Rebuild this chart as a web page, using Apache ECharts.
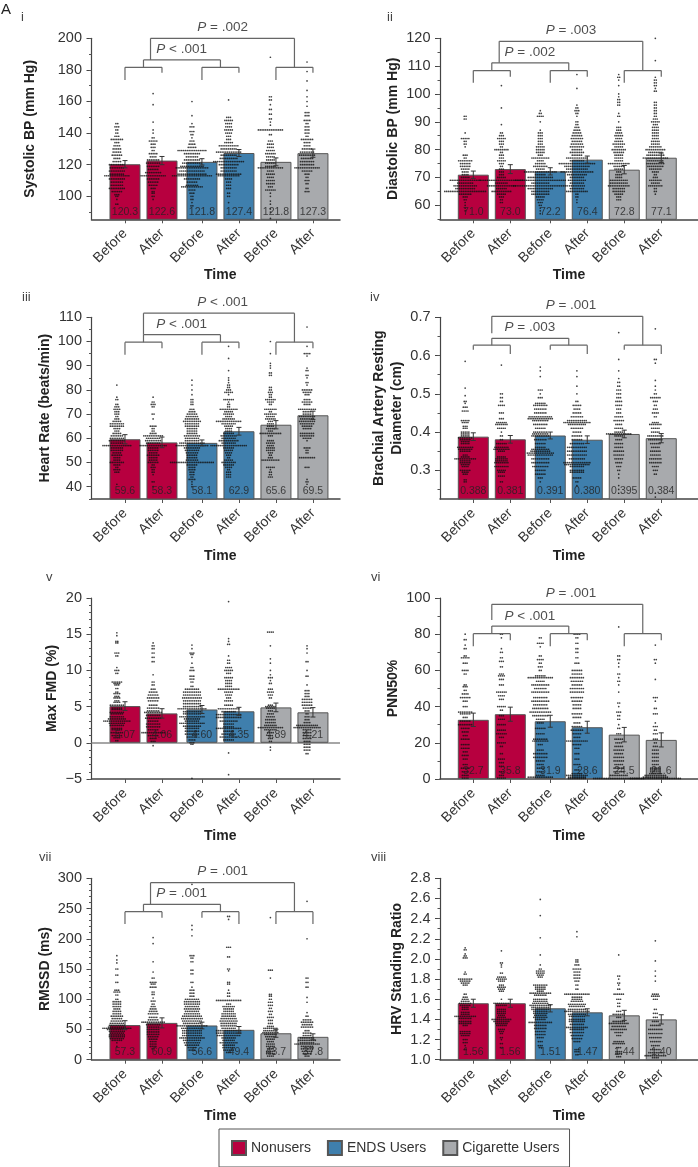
<!DOCTYPE html>
<html>
<head>
<meta charset="utf-8">
<script src="https://cdn.jsdelivr.net/npm/echarts@6/dist/echarts.min.js"></script>
<style>body{margin:0;background:#fff}#chart{width:698px;height:1167px}</style>
</head>
<body>
<div id="chart"></div>
<script>
var timeLabels = ['Before', 'After', 'Before', 'After', 'Before', 'After'];
var groupNames = ['Nonusers', 'ENDS Users', 'Cigarette Users'];
var groupColors = ['#B7003F', '#3F7FAD', '#A8AAAD'];

// bar means and standard errors, one array per panel
var systolicMeans = [120.3, 122.6, 121.8, 127.4, 121.8, 127.3];
var systolicErr = [2.3, 2.6, 2.0, 2.2, 2.5, 2.6];
var diastolicMeans = [71.0, 73.0, 72.2, 76.4, 72.8, 77.1];
var diastolicErr = [1.3, 1.6, 1.3, 1.3, 1.5, 1.7];
var heartMeans = [59.6, 58.3, 58.1, 62.9, 65.6, 69.5];
var heartErr = [1.9, 2.2, 1.2, 1.6, 1.7, 1.7];
var diameterMeans = [0.388, 0.381, 0.391, 0.380, 0.395, 0.384];
var diameterErr = [0.010, 0.010, 0.009, 0.010, 0.010, 0.012];
var fmdMeans = [5.07, 4.06, 4.60, 4.35, 4.89, 4.21];
var fmdErr = [0.6, 0.65, 0.55, 0.55, 0.6, 0.65];
var pnnMeans = [32.7, 35.8, 31.9, 28.6, 24.5, 21.6];
var pnnErr = [3.7, 3.9, 3.3, 3.3, 4.0, 3.9];
var rmssdMeans = [57.3, 60.9, 56.6, 49.4, 43.7, 37.8];
var rmssdErr = [7.2, 8.3, 5.5, 5.5, 6.6, 5.0];
var hrvMeans = [1.56, 1.56, 1.51, 1.47, 1.44, 1.40];
var hrvErr = [0.04, 0.04, 0.036, 0.035, 0.05, 0.046];

// dots as value,count pairs per bar
var systolicDots = [
  [146,2,144,3,142,2,140,2,138,3,136,7,134,3,132,4,130,5,128,5,126,6,124,4,122,5,120,9,118,8,116,9,114,8,113,14,111,9,109,7,107,7,105,9,103,6,101,3,100,2,98,1,95,2],
  [165,1,158,1,147,1,142,1,140,1,137,2,135,5,133,3,131,3,129,2,127,5,125,4,123,7,121,8,119,7,117,6,115,9,113,14,111,7,109,6,107,5,105,3,103,2,102,2,100,2,98,1],
  [160,1,151,1,146,1,144,3,141,3,139,2,137,1,135,3,133,4,131,5,129,16,127,9,125,7,123,9,121,11,119,13,118,18,116,14,114,16,113,22,111,9,109,6,107,7,106,12,104,4,102,3,100,2,98,2,96,1,94,2],
  [161,1,150,3,148,5,146,4,144,4,142,5,140,4,138,3,136,3,134,5,132,11,130,9,128,14,126,9,124,10,122,17,120,11,118,9,116,9,114,14,113,12,111,4,109,3,107,3,105,3,102,2,100,2,96,1],
  [188,1,163,2,161,2,158,1,155,2,152,2,149,2,147,1,145,1,142,14,139,2,135,3,133,4,131,4,129,5,127,6,125,5,123,5,121,6,119,6,118,14,116,4,114,5,112,4,110,5,108,5,106,3,104,6,102,1,100,1,97,1,95,1,92,1,90,1,86,1],
  [185,1,179,1,173,1,167,1,163,1,160,1,157,1,153,3,151,3,148,4,146,2,144,3,142,3,140,3,138,2,136,7,134,4,132,4,130,6,128,8,126,9,124,7,122,8,120,8,118,14,116,6,114,3,112,2,110,3,108,2,105,2,103,3]
];
var diastolicDots = [
  [92,2,91,2,86,1,84,5,83,2,82,2,81,1,78,3,77,2,76,8,75,6,74,6,73,5,72,4,71,4,70,5,69,17,68,9,67,13,66,11,65,23,64,7,63,3,62,2,61,1,60,1,59,1,58,1],
  [103,1,95,1,89,1,86,2,85,3,84,5,83,3,82,3,81,2,80,8,79,2,78,3,77,3,76,5,75,3,74,2,73,3,72,3,71,3,70,5,69,24,68,7,67,16,66,6,65,11,64,5,63,3,62,2,61,2],
  [94,1,93,2,92,4,90,1,87,1,86,3,85,3,84,3,83,3,82,3,81,5,80,5,79,5,78,3,77,10,76,4,75,6,74,8,73,5,72,18,71,6,70,14,69,28,68,10,67,30,66,14,65,10,64,10,63,5,62,4,61,3,60,2,59,1,58,1,57,1],
  [107,1,102,1,96,1,95,2,94,3,93,2,92,1,90,2,89,2,88,3,87,4,86,5,85,6,84,7,83,6,82,7,81,8,80,6,79,8,78,6,77,12,76,8,75,20,74,14,73,12,72,18,71,11,70,8,69,10,68,8,67,9,66,8,65,12,64,2,63,2,62,1,61,1],
  [107,1,106,2,105,1,103,1,100,1,99,1,98,2,97,2,96,2,93,1,92,2,90,1,88,3,87,3,86,4,85,5,84,4,83,5,82,7,81,5,80,8,79,6,78,5,77,5,76,5,75,12,74,6,73,5,72,3,71,4,70,4,69,10,68,10,67,12,66,7,65,7,64,5,63,3,62,3],
  [120,1,112,1,106,1,105,2,104,2,103,2,102,1,101,2,97,2,96,2,95,2,94,2,93,2,92,2,91,3,90,5,89,3,88,4,87,4,86,4,85,4,84,4,83,5,82,5,81,7,80,11,79,8,78,10,77,14,76,9,75,10,74,9,73,7,72,4,71,2,70,3,69,7,68,5,67,8,66,2,65,2,64,1]
];
var heartDots = [
  [82,1,77,1,76,2,74,2,73,3,72,4,71,3,70,3,69,2,68,3,67,5,66,8,65,8,64,4,63,3,62,5,61,7,60,8,59,9,58,7,57,16,56,7,55,7,54,5,53,6,52,4,51,4,50,8,49,4,48,2,47,4,46,3,41,1],
  [77,1,75,2,74,3,73,2,70,2,68,1,65,4,64,2,63,2,62,4,61,11,60,8,59,9,58,8,57,15,56,6,55,6,54,5,53,7,52,5,51,5,50,6,49,2,48,3,47,2,46,2,45,1,42,2,40,1],
  [84,1,82,1,80,1,78,1,76,2,75,2,74,2,72,3,71,4,70,6,69,7,68,8,67,10,66,8,65,8,64,6,63,6,62,6,61,9,60,8,59,8,58,14,57,18,56,9,55,8,54,7,53,6,52,6,51,7,50,24,49,6,48,4,47,4,46,3,45,3,44,2,43,4,42,1,41,1,40,1],
  [98,1,93,1,88,1,85,1,84,1,83,1,82,2,81,2,80,3,79,5,78,1,76,6,75,1,74,2,73,2,72,10,71,5,70,6,69,4,68,7,67,14,66,8,65,5,64,4,63,4,62,6,61,9,60,8,59,11,58,8,57,20,56,6,55,5,54,4,53,3,52,2,51,5,50,8,49,6,48,4,47,2,46,3,45,3,44,3],
  [100,1,95,1,91,1,90,1,89,1,87,2,86,2,81,2,80,2,79,3,78,2,77,2,76,6,75,4,74,2,72,7,71,2,70,7,69,5,68,6,67,3,66,4,65,4,64,5,63,3,62,12,61,3,59,4,58,5,57,4,56,5,55,5,54,3,53,2,52,3,51,10,48,5,47,1,46,2,45,2,44,3],
  [106,1,98,1,95,4,94,1,89,1,88,2,86,2,85,1,83,2,82,1,80,6,79,5,78,3,76,4,75,6,74,4,72,10,71,5,70,5,69,9,68,8,67,9,66,8,65,6,64,5,62,8,61,8,60,5,59,1,56,4,55,2,54,2,52,9,48,3,43,1,42,2,41,1]
];
var diameterDots = [
  [.585,1,.515,1,.495,1,.48,2,.475,1,.465,3,.455,4,.43,5,.425,4,.415,3,.41,3,.40,5,.395,5,.39,5,.385,8,.38,6,.375,5,.37,5,.36,9,.355,8,.35,6,.34,3,.335,5,.33,12,.325,6,.32,6,.315,5,.31,4,.30,6,.295,4,.29,3,.275,2,.27,2],
  [.575,1,.50,2,.49,2,.48,2,.47,4,.45,3,.435,3,.425,6,.42,7,.41,5,.40,1,.39,2,.38,2,.37,6,.36,8,.355,9,.35,4,.335,5,.33,7,.325,7,.32,8,.31,8,.30,5,.295,4,.285,4,.27,2],
  [.57,1,.56,1,.545,1,.51,3,.50,1,.49,3,.475,6,.47,8,.46,7,.45,7,.44,13,.435,14,.43,9,.42,8,.41,6,.40,8,.395,9,.39,10,.38,7,.37,6,.36,6,.355,10,.35,11,.345,15,.34,14,.33,10,.32,10,.31,9,.30,6,.29,6,.28,3,.27,1],
  [.56,1,.545,1,.52,1,.50,1,.48,2,.47,5,.46,4,.45,5,.44,7,.43,11,.425,15,.42,10,.41,7,.40,5,.39,6,.38,6,.37,8,.36,11,.35,11,.34,11,.33,9,.32,15,.315,14,.31,8,.30,8,.295,8,.28,5,.27,2,.26,1],
  [.66,1,.59,1,.56,1,.54,1,.53,2,.52,2,.51,3,.50,3,.49,3,.48,4,.47,4,.46,3,.45,3,.44,5,.43,6,.42,4,.41,5,.40,5,.395,14,.39,5,.38,4,.37,5,.36,5,.35,6,.34,6,.33,5,.32,4,.31,3,.30,2,.29,1,.28,1,.26,1,.25,1,.24,1],
  [.67,1,.59,2,.58,1,.535,1,.52,1,.51,1,.50,2,.49,6,.48,3,.47,2,.46,3,.45,4,.44,2,.425,4,.42,7,.41,5,.40,5,.39,9,.38,8,.37,6,.36,5,.35,6,.34,6,.33,7,.32,7,.31,4,.30,3,.29,2,.24,1,.23,1]
];
var fmdDots = [
  [15.2,1,14.8,1,14,2,13.8,2,12.4,3,12,2,10.4,1,10,3,9.6,2,8.4,6,8.2,4,8,3,7.5,2,7,2,6.8,4,6.4,3,6.2,4,5.8,3,5.6,4,5.2,8,4.8,6,4.6,6,4.2,8,4,7,3.6,8,3.3,10,3,15,2.7,9,2.4,8,2,6,1.8,6,1.4,7,1,6,.7,4,.3,2],
  [13.8,1,13.4,2,13,2,12.4,2,11.8,2,11.2,2,9.4,1,8.4,2,8,2,7.4,3,7,5,6.6,6,6.2,7,5.8,6,5.2,5,4.8,7,4.4,7,4.2,10,3.8,8,3.4,9,3,6,2.6,8,2.2,8,1.8,6,1.4,13,1,6,.6,4,.2,3,-.4,1],
  [13.5,1,13,1,12.4,3,12.2,2,11.8,1,11,1,10.4,2,10,3,9.2,3,8.8,3,8.4,2,7.8,2,7.4,8,7,10,6.6,10,6.2,11,5.8,10,5.4,10,5,10,4.7,16,4.3,10,4,10,3.6,14,3.3,9,3,8,2.7,14,2.3,10,2,8,1.6,8,1.2,8,.8,6,.4,4,0,3,-.2,2,-4.9,1],
  [19.5,1,14.4,1,14,1,13.6,2,12,1,11.4,2,11,2,10.4,4,10,5,9.6,3,9,5,8.6,4,8.2,4,7.8,4,7.4,12,7,5,6.6,4,6.2,3,5.8,5,5.2,5,4.7,12,4.3,8,3.9,14,3.5,14,3,10,2.6,6,2.2,6,2,14,1.6,6,1.2,8,.8,10,.4,6,-1.4,1,-4.4,1],
  [15.3,4,13.4,1,11.6,1,11,1,10,1,9.4,1,9,3,8.6,1,8.2,2,7.4,3,7,4,6.6,3,6.2,2,5.2,3,5,6,4.8,5,4.4,3,4,4,3.6,5,3.2,6,2.8,6,2.4,7,2.1,14,1.8,7,1.4,4,1,3,.6,3,.2,2,-.6,1,-1,1],
  [13.4,1,13,1,12.4,1,11.2,2,10,1,9.2,2,8,1,7.2,3,6.8,3,6.4,3,6,6,5.6,6,5.2,6,4.8,5,4.4,3,4,2,3.6,3,3.2,3,2.8,4,2.4,12,2.1,15,1.8,5,1.4,5,1,5,.6,5,.2,4,-.2,4,-.6,4,-1,4,-1.5,2]
];
var pnnDots = [
  [80,1,77,2,74,1,72,2,68,2,67,5,64,3,60,4,58,2,52,2,51,3,49,2,47,4,45,6,43,3,40,3,37,8,36,6,34,3,32,6,30,8,28,5,26,4,24,3,22,5,19,5,17,5,15,3,13,4,11,3,8,3,6,5,4,4,2,4,.5,4],
  [80,2,78,1,72,1,70,2,67,2,65,3,62,2,58,3,57,4,55,3,52,3,48,6,46,4,44,3,40,5,38,2,35,3,33,4,30,5,27,5,25,6,23,3,20,5,18,2,14,2,11,4,9,3,7,3,4,3,2,3,.5,5],
  [78,2,75,4,73,1,68,2,66,4,64,2,62,3,60,2,57,6,56,14,54,5,52,10,50,7,48,10,45,8,43,10,41,8,39,9,37,12,35,9,33,5,31,4,28,6,25,5,22,8,21,9,19,3,16,4,14,8,12,8,10,5,8,4,6,4,4,4,2,5,1,14],
  [80,4,78,2,75,2,72,2,70,2,67,2,64,3,60,6,58,6,56,8,54,7,52,6,50,8,48,8,45,7,43,6,41,5,39,5,36,6,34,5,31,4,29,6,27,7,25,5,23,4,21,12,19,5,17,3,14,3,11,3,8,4,5,3,3,6,2,12,1,10,.3,10],
  [84,1,68,2,66,2,64,1,62,1,58,2,56,1,54,2,52,1,48,1,42,2,40,1,37,3,35,2,33,2,30,1,28,2,25,3,22,5,20,4,18,5,16,6,14,5,12,6,10,6,8,5,6,6,4,6,2,10,.3,28],
  [74,1,66,2,64,1,55,1,45,3,43,1,39,2,36,3,31,1,29,3,27,2,25,3,22,3,20,2,18,3,16,4,14,4,12,4,10,4,8,4,6,6,5,6,4,6,3,7,2,12,1,14,.3,28]
];
var rmssdDots = [
  [172,1,165,1,160,1,150,2,140,2,128,2,115,3,112,4,107,2,100,2,96,5,92,5,88,5,84,4,80,5,76,5,72,7,68,6,64,7,60,8,57,9,54,10,52,16,50,11,47,9,44,8,41,9,38,9,35,8,32,6,28,1,22,1],
  [202,1,192,1,162,1,145,1,135,2,128,4,125,3,120,4,112,2,108,2,102,1,97,3,92,2,88,3,84,4,80,5,76,6,70,5,66,6,62,13,58,8,54,7,50,7,46,7,42,7,38,6,34,5,30,4,26,4,22,4,18,2],
  [290,1,222,1,215,1,205,1,172,3,168,2,162,2,148,2,142,2,128,2,120,1,115,3,110,3,105,3,100,8,96,9,92,9,88,8,84,9,80,8,76,9,72,11,68,12,64,11,60,10,56,17,52,12,48,11,44,11,40,11,36,14,32,10,28,9,24,8,20,5,16,4],
  [237,2,232,1,186,3,170,2,150,2,147,1,128,2,125,2,115,1,110,2,105,2,98,14,92,3,88,7,84,6,80,6,76,8,72,8,68,9,64,10,60,9,56,9,52,8,48,14,44,14,40,13,36,8,32,7,28,10,24,7,20,7,16,6,12,3],
  [235,1,148,3,135,1,108,2,105,2,100,2,95,3,90,3,85,2,80,3,75,2,70,4,65,3,60,3,55,4,52,8,48,8,45,9,42,7,38,6,34,5,30,4,26,5,22,5,18,4,14,5,10,5,6,4],
  [262,1,200,1,135,2,128,2,120,2,103,1,95,1,78,1,72,2,66,5,62,7,58,6,54,7,48,3,44,5,40,5,36,8,32,10,28,8,26,14,22,7,18,7,14,6,10,5,6,3]
];
var hrvDots = [
  [2.11,1,2.09,2,2.05,1,2.03,2,2.01,3,1.87,1,1.85,2,1.8,8,1.78,6,1.76,5,1.74,3,1.65,2,1.62,3,1.6,4,1.58,5,1.56,7,1.54,6,1.52,4,1.5,4,1.47,5,1.45,5,1.43,12,1.41,7,1.38,7,1.36,7,1.34,3,1.28,6,1.26,6,1.24,5,1.2,3,1.17,3,1.14,1,1.1,2],
  [2.08,1,1.96,2,1.94,1,1.92,1,1.86,2,1.82,5,1.8,6,1.78,4,1.74,3,1.72,5,1.7,4,1.68,3,1.6,1,1.56,9,1.54,6,1.5,5,1.48,5,1.46,5,1.44,4,1.42,5,1.4,11,1.38,9,1.36,7,1.34,6,1.3,4,1.28,3,1.26,2,1.22,2,1.2,1,1.16,2,1.12,2],
  [2.59,1,2.43,1,2.21,1,2.04,1,1.94,1,1.9,2,1.88,5,1.86,5,1.84,4,1.82,3,1.74,8,1.72,6,1.7,6,1.68,4,1.66,12,1.64,7,1.6,8,1.58,8,1.56,9,1.54,12,1.52,10,1.5,10,1.48,8,1.46,8,1.44,7,1.42,8,1.4,6,1.37,13,1.34,7,1.31,7,1.28,6,1.25,6,1.22,4,1.18,3,1.14,3,1.12,2],
  [2.27,1,2.22,1,1.99,2,1.97,2,1.94,3,1.9,5,1.87,4,1.84,4,1.81,4,1.78,3,1.74,2,1.7,2,1.65,14,1.62,6,1.6,6,1.58,7,1.55,10,1.53,9,1.5,10,1.48,14,1.45,10,1.43,9,1.4,9,1.38,9,1.35,8,1.32,12,1.3,8,1.27,8,1.24,7,1.21,6,1.18,4,1.1,3,1.08,3,1.05,2],
  [2.04,1,1.83,2,1.8,1,1.76,2,1.74,1,1.7,2,1.65,6,1.6,3,1.56,2,1.53,2,1.48,3,1.45,7,1.42,3,1.38,7,1.36,11,1.33,8,1.3,9,1.27,5,1.24,3,1.18,6,1.16,7,1.12,3,1.08,4,1.06,4,1.03,3],
  [2.18,1,1.98,1,1.88,1,1.83,1,1.78,1,1.65,4,1.63,5,1.6,3,1.5,2,1.46,3,1.42,3,1.38,4,1.34,6,1.3,8,1.26,8,1.22,7,1.18,6,1.14,5,1.1,6,1.07,8,1.04,12,1.02,4]
];

// layout of the x axis: one unit = 37px, groups a bit apart
var tickX = [1, 2, 3.08, 4.08, 5.08, 6.08];
var swarmShift = [-0.22, -0.24, -0.27, -0.28, -0.15, -0.16];
var dotPitch = 0.05;
var pxPerUnit = 37;

var panels = [
  {tag:'i', col:0, top:38.3, h:181, min:85.44, max:200, major:[100,120,140,160,180,200], minor:10, dec:0, fix:1,
   name:'Systolic BP (mm Hg)', gap:52, timeGap:48, means:systolicMeans, err:systolicErr, dots:systolicDots, tagX:21, tagY:11,
   br:{low:181.6, legs:[173.6,178.2,173.6,178.2,173.6,178.2], up:186.3, top:200, topX:1.69, topEnd:186.3, tTop:207, tLow:192.8, pTop:'= .002', pLow:'< .001'}},
  {tag:'ii', col:1, top:38.3, h:181, min:54.97, max:120, major:[60,70,80,90,100,110,120], minor:5, dec:0, fix:1,
   name:'Diastolic BP (mm Hg)', gap:36, timeGap:48, means:diastolicMeans, err:diastolicErr, dots:diastolicDots, tagX:387, tagY:11,
   br:{low:108.4, legs:[104,106.2,104,106.2,104,106.2], up:111.2, top:118.9, topX:1.7, topEnd:111.2, tTop:123, tLow:115, pTop:'= .003', pLow:'= .002'}},
  {tag:'iii', col:0, top:317.3, h:181.7, min:34.9, max:110, major:[40,50,60,70,80,90,100,110], minor:5, dec:0, fix:1,
   name:'Heart Rate (beats/min)', gap:34.5, timeGap:50, means:heartMeans, err:heartErr, dots:heartDots, tagX:22, tagY:291,
   br:{low:99.7, legs:[94.5,97.2,94.5,97.2,94.5,97.2], up:102.8, top:111.7, topX:1.5, topEnd:102.8, tTop:116.4, tLow:107.1, pTop:'< .001', pLow:'< .001'}},
  {tag:'iv', col:1, top:317.3, h:181.7, min:0.225, max:0.7, major:[0.3,0.4,0.5,0.6,0.7], minor:0.05, dec:1, fix:3,
   name:'Brachial Artery Resting\nDiameter (cm)', gap:32, timeGap:50, means:diameterMeans, err:diameterErr, dots:diameterDots, tagX:370, tagY:291,
   br:{low:0.627, legs:[0.615,0.604,0.615,0.604,0.615,0.604], up:0.645, top:0.7026, topX:1.5, topEnd:0.658, tTop:0.732, tLow:0.674, pTop:'= .001', pLow:'= .003'}},
  {tag:'v', col:0, top:598, h:181, min:-5, max:20, major:[-5,0,5,10,15,20], minor:1, dec:0, fix:2,
   name:'Max FMD (%)', gap:28.5, timeGap:50, means:fmdMeans, err:fmdErr, dots:fmdDots, tagX:46, tagY:571},
  {tag:'vi', col:1, top:598, h:181, min:0, max:100, major:[0,20,40,60,80,100], minor:10, dec:0, fix:1,
   name:'PNN50%', gap:36, timeGap:50, means:pnnMeans, err:pnnErr, dots:pnnDots, tagX:371, tagY:571,
   br:{low:80.3, legs:[73.3,76.6,73.3,76.6,73.3,76.6], up:84.5, top:96.5, topX:1.5, topEnd:87.8, tTop:102.6, tLow:90, pTop:'= .001', pLow:'< .001'}},
  {tag:'vii', col:0, top:878.3, h:181.4, min:0, max:300, major:[0,50,100,150,200,250,300], minor:10, dec:0, fix:1,
   name:'RMSSD (ms)', gap:36, timeGap:49, means:rmssdMeans, err:rmssdErr, dots:rmssdDots, tagX:39, tagY:851,
   br:{low:244.8, legs:[224.4,234.8,234.8,224.4,224.4,224.4], up:257, top:292.7, topX:1.69, topEnd:257, tTop:312, tLow:275.2, pTop:'= .001', pLow:'= .001'}},
  {tag:'viii', col:1, top:878.3, h:181.4, min:1, max:2.8, major:[1,1.2,1.4,1.6,1.8,2,2.2,2.4,2.6,2.8], minor:0.1, dec:1, fix:2,
   name:'HRV Standing Ratio', gap:31, timeGap:49, means:hrvMeans, err:hrvErr, dots:hrvDots, tagX:371, tagY:851}
];

var colLeft = [91.5, 440];
var colWidth = [248.5, 258];
var colXMin = [0.095, 0.1];

var fontName = '"Liberation Sans", Arial, sans-serif';
var myChart = echarts.init(document.getElementById('chart'), null, {renderer: 'canvas'});

var grids = [], xAxes = [], yAxes = [], series = [];
var titles = [{text: 'A', left: 1, top: 2, padding: 0, textStyle: {fontSize: 15, fontWeight: 'normal', color: '#222', fontFamily: fontName}}];

function dotsToPoints(dots) {
  var pts = [];
  dots.forEach(function (col, c) {
    for (var i = 0; i < col.length; i += 2) {
      var n = col[i + 1];
      for (var k = 0; k < n; k++) {
        pts.push([tickX[c] + swarmShift[c] + (k - (n - 1) / 2) * dotPitch, col[i]]);
      }
    }
  });
  return pts;
}

function bracketSegments(br) {
  var s = [];
  for (var g = 0; g < 3; g++) {
    var a = tickX[2 * g], b = tickX[2 * g + 1];
    s.push([a, br.low, b, br.low], [a, br.low, a, br.legs[2 * g]], [b, br.low, b, br.legs[2 * g + 1]]);
  }
  var m1 = (tickX[0] + tickX[1]) / 2, m2 = (tickX[2] + tickX[3]) / 2, m3 = (tickX[4] + tickX[5]) / 2;
  s.push([m1, br.low, m1, br.up], [m1, br.up, m2, br.up], [m2, br.up, m2, br.low]);
  s.push([br.topX, br.topEnd, br.topX, br.top], [br.topX, br.top, m3, br.top], [m3, br.top, m3, br.low]);
  return s;
}

function renderSegment(params, api) {
  var p0 = api.coord([api.value(0), api.value(1)]);
  var p1 = api.coord([api.value(2), api.value(3)]);
  return {type: 'line', shape: {x1: p0[0], y1: p0[1], x2: p1[0], y2: p1[1]}, style: {stroke: '#666', lineWidth: 1.2}};
}

function renderErr(params, api) {
  var x = api.value(0);
  var lo = api.coord([x, api.value(1)]);
  var hi = api.coord([x, api.value(2)]);
  var cap = 2.5, st = {stroke: '#333', lineWidth: 1};
  return {type: 'group', children: [
    {type: 'line', shape: {x1: lo[0], y1: lo[1], x2: hi[0], y2: hi[1]}, style: st},
    {type: 'line', shape: {x1: lo[0] - cap, y1: lo[1], x2: lo[0] + cap, y2: lo[1]}, style: st},
    {type: 'line', shape: {x1: hi[0] - cap, y1: hi[1], x2: hi[0] + cap, y2: hi[1]}, style: st}
  ]};
}

panels.forEach(function (p, idx) {
  var xMin = colXMin[p.col];
  var w = colWidth[p.col];
  grids.push({left: colLeft[p.col], top: p.top, width: w, height: p.h});
  titles.push({text: p.tag, left: p.tagX, top: p.tagY, padding: 0, textStyle: {fontSize: 13, fontWeight: 'normal', color: '#444', fontFamily: fontName}});

  xAxes.push({
    type: 'value', gridIndex: idx, min: xMin, max: xMin + w / pxPerUnit,
    name: 'Time', nameLocation: 'middle', nameGap: p.timeGap,
    nameTextStyle: {fontSize: 14, fontWeight: 'bold', color: '#222', fontFamily: fontName, padding: [0, 0, 0, p.col === 0 ? 9 : 0]},
    splitLine: {show: false},
    axisLine: {onZero: false, lineStyle: {color: '#444', width: 1.5}},
    axisTick: {customValues: tickX, length: 4, lineStyle: {color: '#555'}},
    axisLabel: {customValues: tickX, rotate: 45, margin: 12, fontSize: 14, color: '#333', fontFamily: fontName,
      formatter: function (v) { return timeLabels[tickX.indexOf(v)]; }}
  });

  var minorVals = [];
  for (var v = Math.ceil(p.min / p.minor - 1e-6); v * p.minor <= p.max + 1e-9; v++) minorVals.push(v * p.minor);
  yAxes.push({
    type: 'value', gridIndex: idx, min: p.min, max: p.max, position: 'left',
    name: p.name, nameLocation: 'middle', nameGap: p.gap, nameRotate: 90,
    nameTextStyle: {fontSize: 14, fontWeight: 'bold', color: '#222', fontFamily: fontName, lineHeight: 18},
    splitLine: {show: false},
    axisLine: {show: true, lineStyle: {color: '#444', width: 1.2}},
    axisTick: {customValues: p.major, length: 5, lineStyle: {color: '#444'}},
    axisLabel: {customValues: p.major, margin: 9.5, fontSize: 14.5, color: '#333', fontFamily: fontName,
      formatter: function (val) { return val.toFixed(p.dec).replace('-', '\u2212'); }}
  });
  yAxes.push({
    type: 'value', gridIndex: idx, min: p.min, max: p.max, position: 'left',
    splitLine: {show: false}, axisLine: {show: false}, axisLabel: {show: false},
    axisTick: {customValues: minorVals, length: 2.5, lineStyle: {color: '#555'}}
  });

  var yIdx = idx * 2;
  groupNames.forEach(function (name, g) {
    var bar = {
      name: name, type: 'bar', xAxisIndex: idx, yAxisIndex: yIdx, barWidth: 31, barGap: '-100%', z: 2,
      itemStyle: {color: groupColors[g], borderColor: '#555', borderWidth: 1},
      data: [[tickX[2 * g], p.means[2 * g]], [tickX[2 * g + 1], p.means[2 * g + 1]]]
    };
    if (p.min < 0 && g === 0) {
      bar.markLine = {symbol: 'none', silent: true, label: {show: false}, z: 2,
        lineStyle: {color: '#888', type: 'solid', width: 1.5}, data: [{yAxis: 0}]};
    }
    series.push(bar);
  });

  series.push({
    type: 'scatter', xAxisIndex: idx, yAxisIndex: yIdx, symbol: 'circle', symbolSize: 1.7, clip: false, silent: true, z: 3,
    itemStyle: {color: '#111'},
    data: dotsToPoints(p.dots)
  });

  // value under each bar, on top of the dots
  series.push({
    type: 'scatter', xAxisIndex: idx, yAxisIndex: yIdx, symbolSize: 0, clip: false, silent: true, z: 4,
    label: {show: true, position: 'top', distance: 2, fontSize: 10.5, color: '#222', fontFamily: fontName,
      formatter: function (q) { return q.value[2].toFixed(p.fix); }},
    data: tickX.map(function (x, i) { return [x, Math.max(p.min, 0), p.means[i]]; })
  });

  series.push({
    type: 'custom', xAxisIndex: idx, yAxisIndex: yIdx, z: 4, silent: true, clip: false,
    renderItem: renderErr, encode: {x: 0, y: [1, 2]},
    data: tickX.map(function (x, i) { return [x, p.means[i] - p.err[i], p.means[i] + p.err[i]]; })
  });

  if (p.br) {
    series.push({
      type: 'custom', xAxisIndex: idx, yAxisIndex: yIdx, z: 5, silent: true, clip: false,
      renderItem: renderSegment, encode: {x: [0, 2], y: [1, 3]},
      data: bracketSegments(p.br)
    });
    series.push({
      type: 'scatter', xAxisIndex: idx, yAxisIndex: yIdx, symbolSize: 0, clip: false, silent: true, z: 6,
      label: {show: true, position: 'inside', fontSize: 13.5, color: '#222', fontFamily: fontName,
        formatter: function (q) { return '{i|P} ' + q.value[2]; },
        rich: {i: {fontStyle: 'italic', fontSize: 13.5, color: '#222', fontFamily: fontName}}},
      data: [[3.64, p.br.tTop, p.br.pTop], [2.53, p.br.tLow, p.br.pLow]]
    });
  }
});

var option1 = {
  animation: false,
  backgroundColor: '#fff',
  title: titles,
  grid: grids,
  xAxis: xAxes,
  yAxis: yAxes,
  legend: {
    data: groupNames, left: 219, top: 1129, selectedMode: false, icon: 'rect',
    itemWidth: 14, itemHeight: 14, itemGap: 16, padding: [11, 10, 11, 12],
    borderColor: '#555', borderWidth: 1, backgroundColor: '#fff',
    textStyle: {fontSize: 14, color: '#333', fontFamily: fontName}
  },
  series: series
};
myChart.setOption(option1);
</script>
</body>
</html>
